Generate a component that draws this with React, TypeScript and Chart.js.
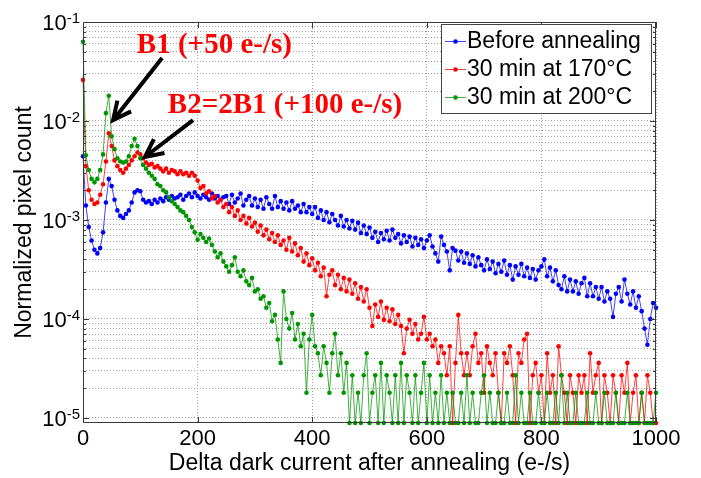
import React, { useEffect, useRef } from 'react';
import { Chart, registerables } from 'chart.js';

Chart.register(...registerables);

// ---------------- data ----------------
const binCenters = [
  0, 5, 10, 15, 20, 25, 30, 35, 40, 45,
  50, 55, 60, 65, 70, 75, 80, 85, 90, 95,
  100, 105, 110, 115, 120, 125, 130, 135, 140, 145,
  150, 155, 160, 165, 170, 175, 180, 185, 190, 195,
  200, 205, 210, 215, 220, 225, 230, 235, 240, 245,
  250, 255, 260, 265, 270, 275, 280, 285, 290, 295,
  300, 305, 310, 315, 320, 325, 330, 335, 340, 345,
  350, 355, 360, 365, 370, 375, 380, 385, 390, 395,
  400, 405, 410, 415, 420, 425, 430, 435, 440, 445,
  450, 455, 460, 465, 470, 475, 480, 485, 490, 495,
  500, 505, 510, 515, 520, 525, 530, 535, 540, 545,
  550, 555, 560, 565, 570, 575, 580, 585, 590, 595,
  600, 605, 610, 615, 620, 625, 630, 635, 640, 645,
  650, 655, 660, 665, 670, 675, 680, 685, 690, 695,
  700, 705, 710, 715, 720, 725, 730, 735, 740, 745,
  750, 755, 760, 765, 770, 775, 780, 785, 790, 795,
  800, 805, 810, 815, 820, 825, 830, 835, 840, 845,
  850, 855, 860, 865, 870, 875, 880, 885, 890, 895,
  900, 905, 910, 915, 920, 925, 930, 935, 940, 945,
  950, 955, 960, 965, 970, 975, 980, 985, 990, 995,
  1000,
];

const beforeAnnealing = [
  4.4e-3, 1.4e-3, 8.5e-4, 6.2e-4, 5.0e-4, 4.6e-4, 5.2e-4, 7.5e-4, 1.5e-3, 2.6e-3,
  2.2e-3, 1.6e-3, 1.25e-3, 1.1e-3, 1.05e-3, 1.15e-3, 1.25e-3, 1.5e-3, 1.9e-3, 2.0e-3,
  1.95e-3, 1.6e-3, 1.5e-3, 1.55e-3, 1.45e-3, 1.6e-3, 1.5e-3, 1.65e-3, 1.55e-3, 1.7e-3,
  1.6e-3, 1.75e-3, 1.65e-3, 1.7e-3, 1.8e-3, 1.6e-3, 1.75e-3, 1.85e-3, 1.7e-3, 1.9e-3,
  1.75e-3, 1.65e-3, 1.8e-3, 1.7e-3, 1.6e-3, 1.85e-3, 1.65e-3, 1.75e-3, 1.6e-3, 1.7e-3,
  1.75e-3, 1.45e-3, 1.8e-3, 1.5e-3, 1.65e-3, 1.85e-3, 1.4e-3, 1.6e-3, 1.75e-3, 1.4e-3,
  1.65e-3, 1.35e-3, 1.6e-3, 1.3e-3, 1.7e-3, 1.45e-3, 1.3e-3, 1.75e-3, 1.35e-3, 1.55e-3,
  1.3e-3, 1.5e-3, 1.25e-3, 1.55e-3, 1.3e-3, 1.4e-3, 1.2e-3, 1.45e-3, 1.2e-3, 1.35e-3,
  1.15e-3, 1.35e-3, 1.05e-3, 1.25e-3, 1.0e-3, 1.2e-3, 9.5e-4, 1.15e-3, 1.0e-3, 8.8e-4,
  1.1e-3, 8.6e-4, 1.0e-3, 8.2e-4, 9.8e-4, 8.0e-4, 9.4e-4, 7.4e-4, 8.8e-4, 7.2e-4,
  8.4e-4, 6.6e-4, 7.6e-4, 6.0e-4, 7.4e-4, 6.4e-4, 7.8e-4, 6.2e-4, 8.0e-4, 6.6e-4,
  7.2e-4, 5.8e-4, 7.0e-4, 6.0e-4, 6.8e-4, 5.4e-4, 6.6e-4, 5.6e-4, 6.4e-4, 5.2e-4,
  6.2e-4, 7.0e-4, 5.4e-4, 4.6e-4, 3.8e-4, 6.8e-4, 5.6e-4, 4.8e-4, 3.1e-4, 5.2e-4,
  4.9e-4, 3.9e-4, 4.8e-4, 3.7e-4, 4.6e-4, 3.6e-4, 4.4e-4, 3.4e-4, 4.2e-4, 3.5e-4,
  3.1e-4, 4.0e-4, 3.2e-4, 3.8e-4, 2.9e-4, 3.6e-4, 3.0e-4, 3.9e-4, 2.8e-4, 3.5e-4,
  2.5e-4, 3.4e-4, 2.8e-4, 3.6e-4, 2.7e-4, 3.3e-4, 2.6e-4, 3.2e-4, 2.5e-4, 3.1e-4,
  3.4e-4, 4.0e-4, 2.7e-4, 3.3e-4, 2.4e-4, 3.1e-4, 2.2e-4, 2.0e-4, 2.7e-4, 1.9e-4,
  2.5e-4, 1.9e-4, 2.4e-4, 1.8e-4, 2.3e-4, 2.6e-4, 1.7e-4, 2.3e-4, 1.7e-4, 2.1e-4,
  1.6e-4, 2.1e-4, 1.5e-4, 1.9e-4, 1.6e-4, 1.05e-4, 1.8e-4, 2.1e-4, 1.5e-4, 2.5e-4,
  1.8e-4, 1.4e-4, 1.9e-4, 1.3e-4, 1.7e-4, 1.2e-4, 8.0e-5, 5.5e-5, 1.0e-4, 1.45e-4,
  1.3e-4,
];

const anneal170 = [
  2.6e-2, 3.5e-3, 2.0e-3, 1.6e-3, 1.45e-3, 1.5e-3, 1.8e-3, 2.3e-3, 3.9e-3, 7.5e-3,
  5.6e-3, 4.0e-3, 3.5e-3, 3.2e-3, 3.0e-3, 3.3e-3, 3.6e-3, 4.0e-3, 4.4e-3, 4.8e-3,
  4.6e-3, 4.2e-3, 3.8e-3, 3.6e-3, 3.7e-3, 3.4e-3, 3.5e-3, 3.3e-3, 3.1e-3, 3.3e-3,
  3.0e-3, 3.2e-3, 3.1e-3, 2.9e-3, 3.1e-3, 2.9e-3, 3.0e-3, 2.8e-3, 3.0e-3, 2.8e-3,
  2.5e-3, 2.1e-3, 2.2e-3, 1.85e-3, 1.95e-3, 1.65e-3, 1.75e-3, 1.5e-3, 1.6e-3, 1.35e-3,
  1.45e-3, 1.2e-3, 1.35e-3, 1.1e-3, 1.25e-3, 1.0e-3, 1.1e-3, 9.2e-4, 1.05e-3, 8.6e-4,
  9.4e-4, 7.6e-4, 8.8e-4, 7.0e-4, 8.0e-4, 6.4e-4, 7.4e-4, 6.0e-4, 7.0e-4, 5.6e-4,
  6.2e-4, 5.0e-4, 6.6e-4, 4.8e-4, 5.8e-4, 4.4e-4, 5.2e-4, 3.8e-4, 4.6e-4, 3.5e-4,
  4.1e-4, 3.1e-4, 3.7e-4, 2.7e-4, 3.3e-4, 1.7e-4, 2.8e-4, 3.1e-4, 2.2e-4, 2.8e-4,
  2.0e-4, 2.6e-4, 1.9e-4, 2.5e-4, 1.8e-4, 2.3e-4, 1.6e-4, 2.1e-4, 1.5e-4, 2.0e-4,
  1.3e-4, 8.5e-5, 1.4e-4, 1.05e-4, 1.5e-4, 9.8e-5, 1.3e-4, 9.5e-5, 1.25e-4, 8.9e-5,
  1.1e-4, 8.5e-5, 4.5e-5, 8.0e-5, 9.8e-5, 7.1e-5, 8.9e-5, 6.2e-5, 7.1e-5, 1.05e-4,
  6.2e-5, 7.1e-5, 5.3e-5, 6.2e-5, 3.6e-5, 5.3e-5, 4.5e-5, 2.7e-5, 5.3e-5, 8.9e-6,
  3.6e-5, 1.1e-4, 4.5e-5, 2.7e-5, 4.5e-5, 2.7e-5, 5.3e-5, 7.1e-5, 3.6e-5, 4.5e-5,
  1.8e-5, 5.3e-5, 3.6e-5, 2.7e-5, 4.5e-5, 1.8e-5, 8.9e-6, 4.5e-5, 3.6e-5, 5.3e-5,
  2.7e-5, 8.9e-6, 4.5e-5, 3.6e-5, 6.2e-5, 7.1e-5, 8.9e-6, 2.7e-5, 3.6e-5, 1.8e-5,
  2.7e-5, 8.9e-6, 4.5e-5, 1.8e-5, 2.7e-5, 8.9e-6, 5.3e-5, 2.7e-5, 1.8e-5, 8.9e-6,
  2.7e-5, 1.8e-5, 8.9e-6, 2.7e-5, 1.8e-5, 2.7e-5, 8.9e-6, 4.5e-5, 1.8e-5, 2.7e-5,
  3.6e-5, 8.9e-6, 2.7e-5, 1.8e-5, 8.9e-6, 2.7e-5, 1.8e-5, 8.9e-6, 2.7e-5, 1.8e-5,
  3.6e-5, 8.9e-6, 1.8e-5, 2.7e-5, 8.9e-6, 1.8e-5, 8.9e-6, 2.7e-5, 1.8e-5, 8.9e-6,
  8.9e-6,
];

const anneal200 = [
  6.3e-2, 4.5e-3, 3.2e-3, 2.6e-3, 2.4e-3, 2.6e-3, 3.2e-3, 4.6e-3, 1.2e-2, 1.8e-2,
  7.0e-3, 5.2e-3, 4.2e-3, 3.9e-3, 3.8e-3, 3.9e-3, 4.4e-3, 5.6e-3, 6.6e-3, 5.6e-3,
  4.2e-3, 3.6e-3, 3.3e-3, 3.0e-3, 2.8e-3, 2.6e-3, 2.3e-3, 2.2e-3, 2.0e-3, 1.9e-3,
  1.7e-3, 1.55e-3, 1.45e-3, 1.35e-3, 1.25e-3, 1.2e-3, 1.1e-3, 1.0e-3, 8.5e-4, 7.5e-4,
  6.3e-4, 7.2e-4, 6.6e-4, 6.0e-4, 6.5e-4, 5.6e-4, 4.8e-4, 4.2e-4, 4.6e-4, 3.8e-4,
  3.4e-4, 3.0e-4, 3.5e-4, 4.2e-4, 3.0e-4, 2.7e-4, 3.1e-4, 2.4e-4, 2.2e-4, 2.6e-4,
  1.9e-4, 2.0e-4, 1.6e-4, 1.7e-4, 1.3e-4, 1.45e-4, 9.5e-5, 1.1e-4, 6.2e-5, 3.6e-5,
  1.9e-4, 1.0e-4, 8.0e-5, 1.15e-4, 6.2e-5, 8.9e-5, 5.3e-5, 7.1e-5, 1.8e-5, 6.2e-5,
  1.1e-4, 5.3e-5, 4.5e-5, 2.7e-5, 5.3e-5, 3.6e-5, 1.8e-5, 4.5e-5, 7.1e-5, 2.7e-5,
  4.5e-5, 1.8e-5, 3.6e-5, 8.9e-6, 2.7e-5, 8.9e-6, 1.8e-5, 8.9e-6, 2.7e-5, 4.5e-5,
  8.9e-6, 1.8e-5, 2.7e-5, 8.9e-6, 3.6e-5, 8.9e-6, 2.7e-5, 1.8e-5, 8.9e-6, 2.7e-5,
  8.9e-6, 3.6e-5, 8.9e-6, 2.7e-5, 1.8e-5, 8.9e-6, 2.7e-5, 8.9e-6, 1.8e-5, 3.6e-5,
  8.9e-6, 2.7e-5, 8.9e-6, 1.8e-5, 8.9e-6, 2.7e-5, 8.9e-6, 1.8e-5, 8.9e-6, 1.8e-5,
  8.9e-6, 8.9e-6, 1.8e-5, 8.9e-6, 2.7e-5, 8.9e-6, 1.8e-5, 8.9e-6, 8.9e-6, 1.8e-5,
  2.7e-5, 8.9e-6, 1.8e-5, 8.9e-6, 8.9e-6, 1.8e-5, 8.9e-6, 8.9e-6, 1.8e-5, 8.9e-6,
  8.9e-6, 2.7e-5, 8.9e-6, 1.8e-5, 8.9e-6, 8.9e-6, 1.8e-5, 8.9e-6, 8.9e-6, 1.8e-5,
  8.9e-6, 8.9e-6, 1.8e-5, 8.9e-6, 8.9e-6, 1.8e-5, 8.9e-6, 2.7e-5, 8.9e-6, 1.8e-5,
  8.9e-6, 8.9e-6, 1.8e-5, 8.9e-6, 8.9e-6, 8.9e-6, 1.8e-5, 8.9e-6, 8.9e-6, 1.8e-5,
  8.9e-6, 8.9e-6, 1.8e-5, 8.9e-6, 8.9e-6, 8.9e-6, 1.8e-5, 8.9e-6, 8.9e-6, 8.9e-6,
  1.8e-5, 8.9e-6, 8.9e-6, 8.9e-6, 8.9e-6, 1.8e-5, 8.9e-6, 8.9e-6, 8.9e-6, 8.9e-6,
  1.8e-5,
];

const seriesLabels = ['Before annealing', '30 min at 170°C', '30 min at 200°C'];
const xTickValues = [0, 200, 400, 600, 800, 1000];
const yDecades = [1e-1, 1e-2, 1e-3, 1e-4, 1e-5];
const yExponentLabels = ['-1', '-2', '-3', '-4', '-5'];
const yMinorMultipliers = [1, 2, 3, 4, 5, 6, 7, 8, 9];
const yAxisMin = 8.9e-6;
const yAxisMax = 1e-1;
const xAxisTitle = 'Delta dark current after annealing (e-/s)';
const yAxisTitle = 'Normalized pixel count';
const annotationB1 = 'B1 (+50 e-/s)';
const annotationB2 = 'B2=2B1 (+100 e-/s)';

// ---------------- style ----------------
const SANS = '"Liberation Sans", Arial, Helvetica, sans-serif';
const SERIF = '"Liberation Serif", "Times New Roman", serif';
const lineColors = ['rgba(0,0,255,0.75)', 'rgba(255,0,0,0.75)', 'rgba(0,150,0,0.75)'];
const pointColors = ['#0000ff', '#ff0000', '#009600'];

function drawArrow(ctx: CanvasRenderingContext2D, x1: number, y1: number, x2: number, y2: number) {
  const ang = Math.atan2(y2 - y1, x2 - x1);
  const head = 20;
  const spread = 0.45;
  ctx.beginPath();
  ctx.moveTo(x1, y1);
  ctx.lineTo(x2, y2);
  ctx.moveTo(x2 - head * Math.cos(ang - spread), y2 - head * Math.sin(ang - spread));
  ctx.lineTo(x2, y2);
  ctx.lineTo(x2 - head * Math.cos(ang + spread), y2 - head * Math.sin(ang + spread));
  ctx.stroke();
}

const decorPlugin = {
  id: 'decor',
  afterDraw(chart: any) {
    const { ctx, chartArea: a, scales } = chart;
    const xs = scales.x;
    const ys = scales.y;
    ctx.save();

    // axes box
    ctx.strokeStyle = '#3a3a3a';
    ctx.lineWidth = 1;
    ctx.setLineDash([]);
    ctx.strokeRect(a.left + 0.5, a.top + 0.5, a.right - a.left - 1, a.bottom - a.top - 1);

    // inner tick marks
    ctx.beginPath();
    ys.ticks.forEach((t: any) => {
      const py = Math.round(ys.getPixelForValue(t.value)) + 0.5;
      const major = yDecades.some((d) => Math.abs(d - t.value) / d < 1e-6);
      const len = major ? 6 : 3;
      ctx.moveTo(a.left, py);
      ctx.lineTo(a.left + len, py);
      ctx.moveTo(a.right, py);
      ctx.lineTo(a.right - len, py);
    });
    xs.ticks.forEach((t: any) => {
      const px = Math.round(xs.getPixelForValue(t.value)) + 0.5;
      ctx.moveTo(px, a.bottom);
      ctx.lineTo(px, a.bottom - 6);
      ctx.moveTo(px, a.top);
      ctx.lineTo(px, a.top + 6);
    });
    ctx.stroke();

    // y tick labels 10^n
    ctx.fillStyle = '#000';
    ctx.textAlign = 'right';
    ctx.textBaseline = 'alphabetic';
    yDecades.forEach((d, i) => {
      const py = ys.getPixelForValue(d);
      const right = a.left - 3;
      ctx.font = `15px ${SANS}`;
      const ew = ctx.measureText(yExponentLabels[i]).width;
      ctx.fillText(yExponentLabels[i], right, py + 1);
      ctx.font = `22px ${SANS}`;
      ctx.fillText('10', right - ew, py + 8);
    });

    // axis titles
    ctx.font = `23px ${SANS}`;
    ctx.textAlign = 'center';
    ctx.textBaseline = 'middle';
    ctx.fillText(xAxisTitle, (a.left + a.right) / 2, a.bottom + 41);
    ctx.save();
    ctx.translate(17, (a.top + a.bottom) / 2);
    ctx.rotate(-Math.PI / 2);
    ctx.fillText(yAxisTitle, 0, 0);
    ctx.restore();

    // legend
    const lw = 210;
    const lh = 89;
    const lx = a.right - 5 - lw;
    const ly = a.top + 2;
    ctx.fillStyle = '#fff';
    ctx.fillRect(lx, ly, lw, lh);
    ctx.strokeStyle = '#444';
    ctx.lineWidth = 1;
    ctx.strokeRect(lx + 0.5, ly + 0.5, lw, lh);
    ctx.font = `23px ${SANS}`;
    ctx.textAlign = 'left';
    ctx.textBaseline = 'middle';
    seriesLabels.forEach((lab, i) => {
      const ry = ly + 17 + i * 28;
      ctx.strokeStyle = lineColors[i];
      ctx.lineWidth = 1;
      ctx.beginPath();
      ctx.moveTo(lx + 4, ry + 0.5);
      ctx.lineTo(lx + 25, ry + 0.5);
      ctx.stroke();
      ctx.fillStyle = pointColors[i];
      ctx.beginPath();
      ctx.arc(lx + 14.5, ry + 0.5, 2.3, 0, Math.PI * 2);
      ctx.fill();
      ctx.fillStyle = '#000';
      ctx.fillText(lab, lx + 26, ry + 1);
    });

    // annotations
    ctx.fillStyle = '#ff0000';
    ctx.font = `bold 29px ${SERIF}`;
    ctx.textAlign = 'left';
    ctx.textBaseline = 'alphabetic';
    ctx.fillText(annotationB1, xs.getPixelForValue(94), ys.getPixelForValue(4.86e-2));
    ctx.fillText(annotationB2, xs.getPixelForValue(148), ys.getPixelForValue(1.2e-2));

    ctx.strokeStyle = '#000';
    ctx.lineWidth = 4;
    ctx.lineCap = 'butt';
    ctx.lineJoin = 'miter';
    drawArrow(ctx, xs.getPixelForValue(138), ys.getPixelForValue(4.33e-2), xs.getPixelForValue(52.5), ys.getPixelForValue(1.02e-2));
    drawArrow(ctx, xs.getPixelForValue(192), ys.getPixelForValue(1.02e-2), xs.getPixelForValue(108), ys.getPixelForValue(4.33e-3));

    ctx.restore();
  },
};

export default function App() {
  const ref = useRef<HTMLCanvasElement | null>(null);

  useEffect(() => {
    if (!ref.current) return;
    const seriesValues = [beforeAnnealing, anneal170, anneal200];
    const datasets = seriesValues.map((vals, i) => ({
      label: seriesLabels[i],
      data: binCenters.map((x, j) => ({ x, y: vals[j] })),
      borderColor: lineColors[i],
      backgroundColor: pointColors[i],
      pointBackgroundColor: pointColors[i],
      pointBorderWidth: 0,
      pointRadius: 2.3,
      borderWidth: 1,
      tension: 0,
      clip: false as any,
      order: 2 - i,
    }));

    const chart = new Chart(ref.current, {
      type: 'line',
      data: { datasets },
      options: {
        animation: false,
        responsive: false,
        devicePixelRatio: 1,
        events: [],
        layout: { padding: { left: 0, right: 37, top: 14, bottom: 0 } },
        plugins: { legend: { display: false }, tooltip: { enabled: false } },
        scales: {
          x: {
            type: 'linear',
            min: 0,
            max: 1000,
            afterBuildTicks: (s: any) => {
              s.ticks = xTickValues.map((v) => ({ value: v }));
            },
            afterFit: (s: any) => {
              s.height = 55;
            },
            grid: { color: '#a0a0a0', lineWidth: 1, drawTicks: false },
            border: { display: false, dash: [1, 2] },
            ticks: {
              font: { family: SANS, size: 22 },
              color: '#000',
              padding: 3,
              maxRotation: 0,
              autoSkip: false,
              callback: (v: any) => String(v),
            },
          },
          y: {
            type: 'logarithmic',
            min: yAxisMin,
            max: yAxisMax,
            afterBuildTicks: (s: any) => {
              const ticks: { value: number }[] = [];
              yDecades.forEach((d) => {
                yMinorMultipliers.forEach((m) => {
                  const v = d * m;
                  if (v <= yAxisMax * 1.0001) ticks.push({ value: v });
                });
              });
              s.ticks = ticks.sort((p, q) => p.value - q.value);
            },
            afterFit: (s: any) => {
              s.width = 75;
            },
            grid: { color: '#a0a0a0', lineWidth: 1, drawTicks: false },
            border: { display: false, dash: [1, 2] },
            ticks: { display: false },
          },
        },
      },
      plugins: [decorPlugin],
    } as any);

    return () => chart.destroy();
  }, []);

  return (
    <div style={{ width: 685, height: 470 }}>
      <canvas ref={ref} width={685} height={470} style={{ display: 'block' }} />
    </div>
  );
}
